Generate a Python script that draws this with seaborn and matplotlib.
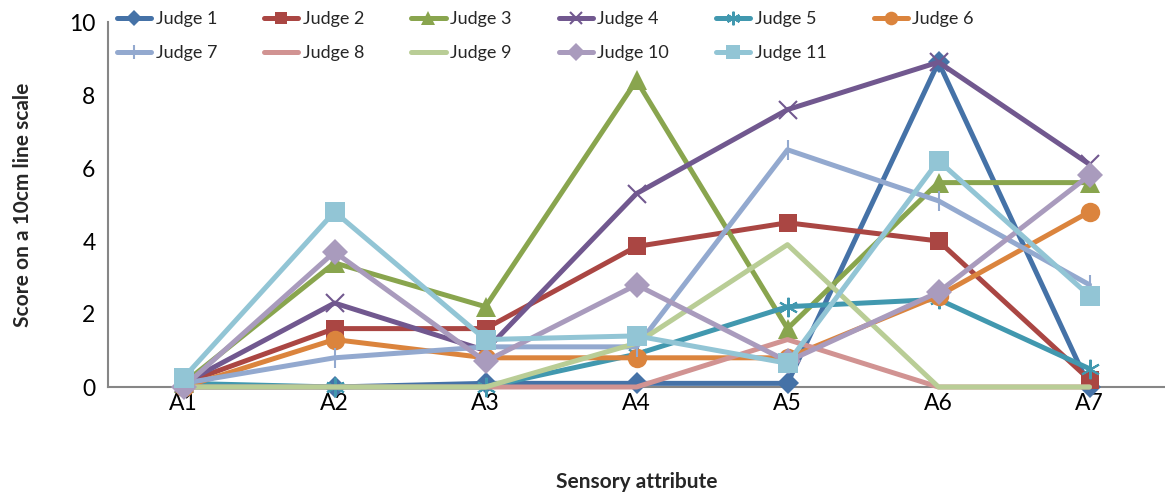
import matplotlib
matplotlib.use("Agg")
import matplotlib.pyplot as plt
import seaborn as sns
import pandas as pd

attributes = ["A1", "A2", "A3", "A4", "A5", "A6", "A7"]
judges = ["Judge 1", "Judge 2", "Judge 3", "Judge 4", "Judge 5", "Judge 6",
          "Judge 7", "Judge 8", "Judge 9", "Judge 10", "Judge 11"]

judge1 = [0.0, 0.0, 0.1, 0.1, 0.1, 8.9, 0.0]
judge2 = [0.1, 1.6, 1.6, 3.85, 4.5, 4.0, 0.2]
judge3 = [0.1, 3.4, 2.2, 8.4, 1.6, 5.6, 5.6]
judge4 = [0.1, 2.3, 1.0, 5.3, 7.6, 8.9, 6.1]
judge5 = [0.1, 0.0, 0.0, 0.9, 2.2, 2.4, 0.5]
judge6 = [0.0, 1.3, 0.8, 0.8, 0.8, 2.5, 4.8]
judge7 = [0.1, 0.8, 1.1, 1.1, 6.5, 5.1, 2.8]
judge8 = [0.0, 0.0, 0.0, 0.0, 1.3, 0.0, 0.0]
judge9 = [0.0, 0.0, 0.0, 1.2, 3.9, 0.0, 0.0]
judge10 = [0.0, 3.7, 0.7, 2.8, 0.7, 2.6, 5.8]
judge11 = [0.25, 4.8, 1.3, 1.4, 0.65, 6.2, 2.5]

scores = [judge1, judge2, judge3, judge4, judge5, judge6,
          judge7, judge8, judge9, judge10, judge11]

colors = ["#4572A7", "#AA4643", "#89A54E", "#71588F", "#4198AF", "#DB843D",
          "#93A9CF", "#D19392", "#B9CD96", "#A99BBD", "#92C5D5"]
markers = ["D", "s", "^", "x", (6, 2, 0), "o", "|", "", "", "D", "s"]
msizes = [11, 13, 14, 13, 14, 14, 14, 0, 0, 13, 14]

df = pd.DataFrame({
    "attribute": attributes * len(judges),
    "pos": list(range(len(attributes))) * len(judges),
    "judge": [j for j in judges for _ in attributes],
    "score": [v for s in scores for v in s],
})

sns.set_theme(style="white")
plt.rcParams["font.family"] = ["Lato", "DejaVu Sans"]

fig = plt.figure(figsize=(11.65, 4.95), dpi=100)
ax = fig.add_axes([108 / 1165, 1 - 387 / 495, 1 - 108 / 1165, (387 - 22) / 495])

for i, judge in enumerate(judges):
    sub = df[df["judge"] == judge]
    thin = markers[i] in ("x", "|", (6, 2, 0))
    sns.lineplot(data=sub, x="pos", y="score", ax=ax, color=colors[i],
                 linewidth=3.6, marker=markers[i] if markers[i] else None,
                 markersize=msizes[i], markeredgewidth=1.5 if thin else 0,
                 markeredgecolor=colors[i], label=judge, clip_on=False,
                 zorder=3 + i)

ax.set_xlim(-0.5, len(attributes) - 0.5)
ax.set_ylim(0, 10)
ax.set_xticks(range(len(attributes)))
ax.set_xticklabels(attributes)
ax.set_yticks([0, 2, 4, 6, 8, 10])
ax.tick_params(axis="both", length=0, labelsize=16.5, colors="#000000")
ax.tick_params(axis="x", pad=4)
ax.tick_params(axis="y", pad=9)
for side in ("top", "right"):
    ax.spines[side].set_visible(False)
for side in ("left", "bottom"):
    ax.spines[side].set_color("#868686")
    ax.spines[side].set_linewidth(1.5)

ax.set_xlabel("Sensory attribute", fontsize=15, fontweight="bold", labelpad=42)
ax.set_ylabel("Score on a 10cm line scale", fontsize=15, fontweight="bold", labelpad=26)

# legend reads row by row: reorder for matplotlib's column-first filling
ax.get_legend().remove()
handles, labels = ax.get_legend_handles_labels()
order = [0, 6, 1, 7, 2, 8, 3, 9, 4, 10, 5]
leg = fig.legend([handles[k] for k in order], [labels[k] for k in order],
                 loc="upper left", ncol=6,
                 bbox_to_anchor=(106 / 1165, 1.0), frameon=False,
                 fontsize=13, handlelength=1.9, handletextpad=0.25,
                 columnspacing=2.6, labelspacing=1.0, markerscale=0.7,
                 borderaxespad=0.2)

fig.savefig("out.png", dpi=100)
